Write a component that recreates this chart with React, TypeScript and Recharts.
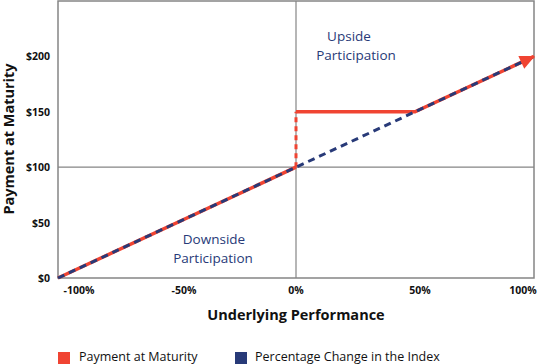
import React from "react";
import { LineChart, Line, XAxis, YAxis, ReferenceLine, ReferenceArea, Customized } from "recharts";

const xTicks = [-100, -50, 0, 50, 100];
const xTickLabels = ["-100%", "-50%", "0%", "50%", "100%"];
const yTicks = [0, 50, 100, 150, 200];
const yTickLabels = ["$0", "$50", "$100", "$150", "$200"];

// Percentage change in the index: underlying performance -> value
const indexX = [-100, 0, 50, 100];
const indexY = [0, 100, 150, 200];

// Payment at maturity (solid parts, null = gap)
const payX = [-100, 0, 0, 0, 50, 100];
const payY = [0, 100, null, 150, 150, 200];

// Jump at 0% (dashed)
const jumpX = [0, 0];
const jumpY = [100, 150];

const RED = "#f04432";
const NAVY = "#283a78";
const GRID = "#858585";
const FONT = "'Open Sans', 'Noto Sans', sans-serif";

const W = 537;
const H = 364;
const M = { top: 1, right: 3, left: 0, bottom: 0 };
const YW = 58;
const XH = 86;

const indexData = indexX.map((x, i) => ({ x, y: indexY[i] }));
const payData = payX.map((x, i) => ({ x, y: payY[i] }));
const jumpData = jumpX.map((x, i) => ({ x, y: jumpY[i] }));

const plotW = W - M.left - M.right - YW;
const plotH = H - M.top - M.bottom - XH;

const XTick = (props: any) => {
  const { x, y, payload, index } = props;
  let dx = 0;
  if (index === 0) dx = 21;
  else if (index === 1) dx = 7;
  else if (index === 3) dx = 5;
  else if (index === 4) dx = -11;
  return (
    <text x={x + dx} y={y + 8} textAnchor="middle" fontFamily={FONT} fontWeight={700} fontSize={10.5} fill="#111">
      {xTickLabels[xTicks.indexOf(payload.value)]}
    </text>
  );
};

const YTick = (props: any) => {
  const { x, y, payload } = props;
  return (
    <text x={x} y={y + 4} textAnchor="end" fontFamily={FONT} fontWeight={700} fontSize={10.5} fill="#111">
      {yTickLabels[yTicks.indexOf(payload.value)]}
    </text>
  );
};

const ArrowDot = (props: any) => {
  const { cx, cy, index } = props;
  if (index !== payData.length - 1 || cx == null) return <g key={`d${index}`} />;
  const dxp = (50 / 200) * plotW;
  const dyp = (50 / 250) * plotH;
  const ang = (Math.atan2(-dyp, dxp) * 180) / Math.PI;
  return (
    <g key={`d${index}`} transform={`translate(${cx},${cy}) rotate(${ang})`}>
      <polygon points="1,0 -14,-7 -14,7" fill={RED} />
    </g>
  );
};

const Annotations = () => (
  <g fontFamily={FONT} fill={NAVY} fontSize={13.5} textAnchor="middle">
    <text x={349} y={41}>Upside</text>
    <text x={356} y={60}>Participation</text>
    <text x={214} y={244}>Downside</text>
    <text x={213} y={263}>Participation</text>
    <text x={296} y={320} fill="#111" fontWeight={700} fontSize={14.5}>Underlying Performance</text>
    <text x={0} y={0} fill="#111" fontWeight={700} fontSize={14.5} transform="translate(14,139) rotate(-90)">Payment at Maturity</text>
    <rect x={58} y={352} width={12} height={12} fill={RED} />
    <text x={79} y={361} fill="#111" fontSize={12.5} textAnchor="start">Payment at Maturity</text>
    <rect x={235} y={352} width={12} height={12} fill={NAVY} />
    <text x={255} y={361} fill="#111" fontSize={12.5} textAnchor="start">Percentage Change in the Index</text>
  </g>
);

export default function App() {
  return (
    <div style={{ position: "absolute", left: 0, top: 0, width: W, height: H, background: "#fff" }}>
      <LineChart width={W} height={H} margin={M}>
        <XAxis
          type="number"
          dataKey="x"
          domain={[-100, 100]}
          ticks={xTicks}
          height={XH}
          axisLine={false}
          tickLine={false}
          tick={<XTick />}
          interval={0}
          allowDuplicatedCategory={false}
        />
        <YAxis
          type="number"
          dataKey="y"
          domain={[0, 250]}
          ticks={yTicks}
          width={YW}
          axisLine={false}
          tickLine={false}
          tick={<YTick />}
          interval={0}
        />
        <ReferenceArea x1={-100} x2={100} y1={0} y2={250} fill="none" stroke={GRID} strokeWidth={1.5} />
        <ReferenceLine y={100} stroke={GRID} strokeWidth={1.2} />
        <ReferenceLine x={0} stroke={GRID} strokeWidth={1.2} />
        <Line
          data={jumpData}
          dataKey="y"
          type="linear"
          stroke={RED}
          strokeWidth={3}
          strokeDasharray="5 4"
          dot={false}
          isAnimationActive={false}
          legendType="none"
        />
        <Line
          data={payData}
          dataKey="y"
          type="linear"
          stroke={RED}
          strokeWidth={3.5}
          dot={<ArrowDot />}
          activeDot={false}
          isAnimationActive={false}
          name="Payment at Maturity"
        />
        <Line
          data={indexData}
          dataKey="y"
          type="linear"
          stroke={NAVY}
          strokeWidth={3}
          strokeDasharray="7 5"
          dot={false}
          activeDot={false}
          isAnimationActive={false}
          name="Percentage Change in the Index"
        />
        <Customized component={Annotations} />
      </LineChart>
    </div>
  );
}
